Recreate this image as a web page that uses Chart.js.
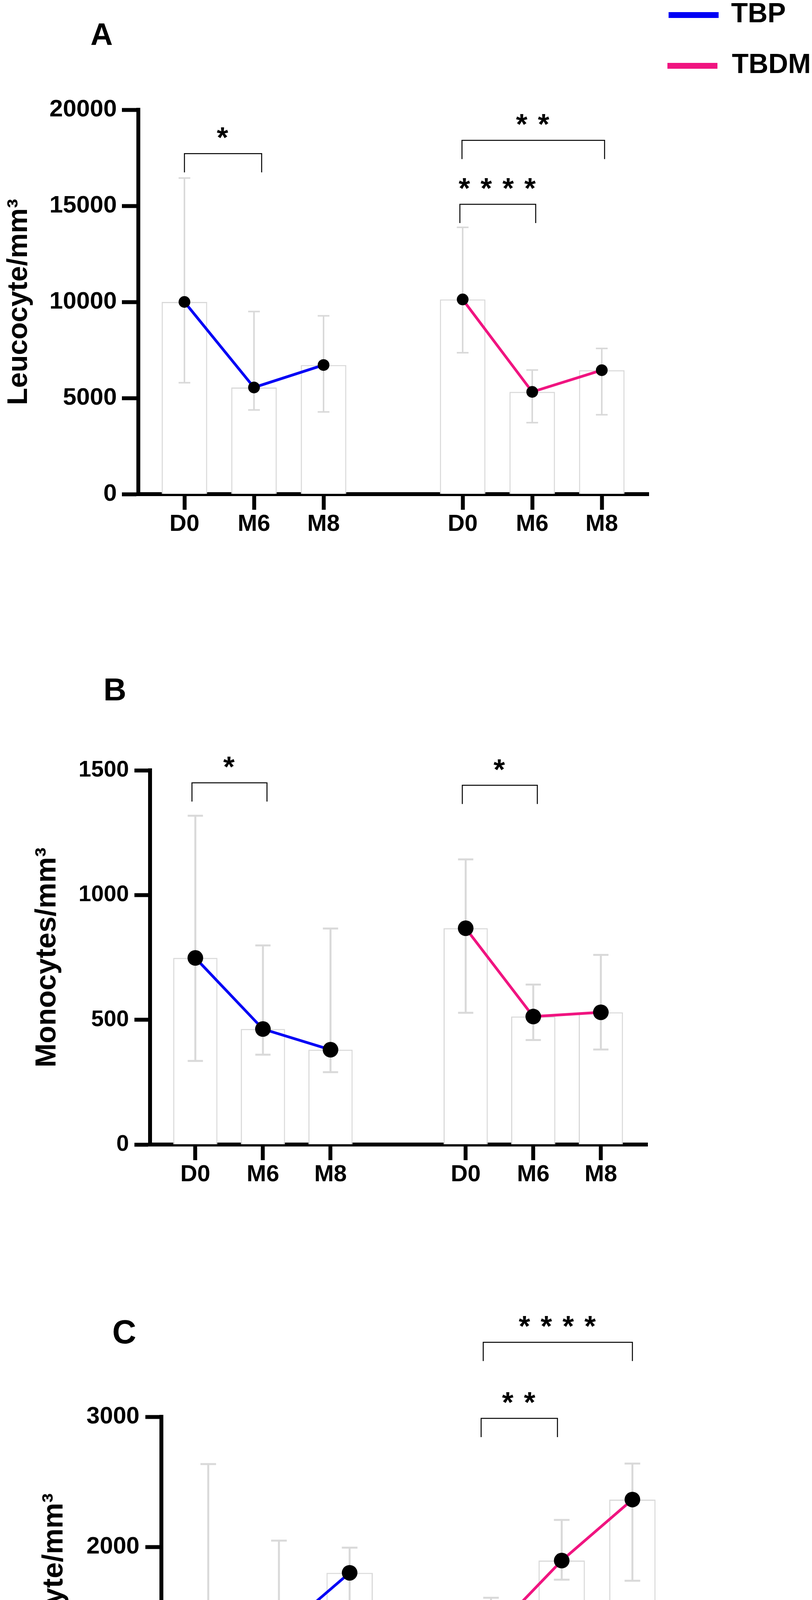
<!DOCTYPE html>
<html>
<head>
<meta charset="utf-8">
<script src="https://cdn.jsdelivr.net/npm/chart.js@4.4.1/dist/chart.umd.min.js"></script>
<style>
html,body{margin:0;padding:0;background:#fff;}
body{width:2078px;height:4742px;position:relative;overflow:hidden;}
canvas{position:absolute;left:0;}
</style>
</head>
<body>
<canvas id="cA" width="2078" height="1500" style="top:0;width:2078px;height:1500px"></canvas>
<canvas id="cB" width="2078" height="1600" style="top:1500px;width:2078px;height:1600px"></canvas>
<canvas id="cC" width="2078" height="1642" style="top:3100px;width:2078px;height:1642px"></canvas>
<script>
// ---------------- data ----------------
const timepoints = ['D0', 'M6', 'M8'];
const groupLabels = ['TBP', 'TBDM'];
const slotsTbp = [1, 2, 3];
const slotsTbdm = [5, 6, 7];

// A - Leucocyte/mm3
const leucoTitle = 'Leucocyte/mm\u00B3';
const leucoTicks = [0, 5000, 10000, 15000, 20000];
const leucoTbpMean = [10000, 5550, 6720];
const leucoTbpLow = [5800, 4380, 4280];
const leucoTbpHigh = [16450, 9500, 9280];
const leucoTbdmMean = [10130, 5320, 6450];
const leucoTbdmLow = [7360, 3720, 4130];
const leucoTbdmHigh = [13880, 6460, 7580];
const leucoSig = [
  { from: 1.0, to: 2.11, level: 17720, text: '*' },
  { from: 4.96, to: 6.05, level: 15080, text: '* * * *' },
  { from: 4.99, to: 7.04, level: 18410, text: '* *' }
];

// B - Monocytes/mm3
const monoTitle = 'Monocytes/mm\u00B3';
const monoTicks = [0, 500, 1000, 1500];
const monoTbpMean = [748, 463, 380];
const monoTbpLow = [335, 360, 290];
const monoTbpHigh = [1318, 798, 866];
const monoTbdmMean = [867, 513, 530];
const monoTbdmLow = [528, 419, 381];
const monoTbdmHigh = [1143, 641, 760];
const monoSig = [
  { from: 0.95, to: 2.06, level: 1450, text: '*' },
  { from: 4.95, to: 6.06, level: 1440, text: '*' }
];

// C - Lymphocyte/mm3
const lymphoTitle = 'Lymphocyte/mm\u00B3';
const lymphoTicks = [0, 1000, 2000, 3000];
const lymphoTbpMean = [1510, 1337, 1803];
const lymphoTbpLow = [1127, 953, 1336];
const lymphoTbpHigh = [2637, 2050, 1996];
const lymphoTbdmMean = [1333, 1897, 2365];
const lymphoTbdmLow = [1109, 1750, 1742];
const lymphoTbdmHigh = [1612, 2209, 2641];
const lymphoSig = [
  { from: 4.86, to: 5.94, level: 2988, text: '* *' },
  { from: 4.89, to: 7.0, level: 3572, text: '* * * *' }
];

// ---------------- style ----------------
const FONT = "'Liberation Sans', Arial, Helvetica, sans-serif";
const BLUE = '#0000f5';
const PINK = '#f01480';
const GREY = '#d9d9d9';

const errorBarsPlugin = {
  id: 'errorBars',
  afterDatasetDraw(chart, args, opts) {
    if (args.meta.type !== 'bar') return;
    const x = chart.scales.x, y = chart.scales.y, ctx = chart.ctx;
    ctx.save();
    ctx.strokeStyle = opts.color;
    ctx.lineWidth = opts.width;
    ctx.lineCap = 'butt';
    opts.slots.forEach((s, i) => {
      const px = x.getPixelForValue(s);
      const lo = y.getPixelForValue(opts.low[i]);
      const hi = y.getPixelForValue(opts.high[i]);
      ctx.beginPath();
      ctx.moveTo(px, lo); ctx.lineTo(px, hi);
      ctx.moveTo(px - opts.cap, lo); ctx.lineTo(px + opts.cap, lo);
      ctx.moveTo(px - opts.cap, hi); ctx.lineTo(px + opts.cap, hi);
      ctx.stroke();
    });
    ctx.restore();
  }
};

const decorPlugin = {
  id: 'decor',
  afterDraw(chart, args, opts) {
    const x = chart.scales.x, y = chart.scales.y, ctx = chart.ctx;
    ctx.save();
    // significance brackets
    ctx.strokeStyle = '#000';
    ctx.fillStyle = '#000';
    ctx.lineWidth = 2.5;
    ctx.font = 'bold ' + opts.starSize + 'px ' + FONT;
    ctx.textAlign = 'center';
    ctx.textBaseline = 'alphabetic';
    if ('letterSpacing' in ctx) ctx.letterSpacing = '3px';
    opts.sig.forEach(b => {
      const x1 = x.getPixelForValue(b.from);
      const x2 = x.getPixelForValue(b.to);
      const yl = y.getPixelForValue(b.level);
      ctx.beginPath();
      ctx.moveTo(x1, yl + opts.drop);
      ctx.lineTo(x1, yl);
      ctx.lineTo(x2, yl);
      ctx.lineTo(x2, yl + opts.drop);
      ctx.stroke();
      ctx.fillText(b.text, (x1 + x2) / 2, yl - opts.starGap + opts.starSize * 0.55);
    });
    if ('letterSpacing' in ctx) ctx.letterSpacing = '0px';
    // panel letter
    ctx.font = 'bold ' + opts.letterSize + 'px ' + FONT;
    ctx.textAlign = 'center';
    ctx.fillText(opts.letter, opts.letterX, opts.letterY);
    // legend
    if (opts.legend) {
      const lg = opts.legend;
      chart.data.datasets.filter(d => d.type === 'line').forEach((d, i) => {
        const yy = lg.y[i];
        ctx.strokeStyle = d.borderColor;
        ctx.lineWidth = lg.lineW;
        ctx.beginPath();
        ctx.moveTo(lg.x1[i], yy);
        ctx.lineTo(lg.x2[i], yy);
        ctx.stroke();
        ctx.fillStyle = '#000';
        ctx.font = 'bold ' + lg.size + 'px ' + FONT;
        ctx.textAlign = 'left';
        ctx.fillText(d.label, lg.tx[i], yy + lg.textDy);
      });
    }
    ctx.restore();
  }
};

function pts(xs, ys) { return xs.map((v, i) => ({ x: v, y: ys[i] })); }

function makePanel(p) {
  const tickSlots = slotsTbp.concat(slotsTbdm);
  const tickLabels = timepoints.concat(timepoints);
  return new Chart(document.getElementById(p.id), {
    type: 'bar',
    data: {
      datasets: [
        { type: 'line', label: groupLabels[0], data: pts(slotsTbp, p.tbpMean),
          borderColor: BLUE, borderWidth: 7, tension: 0, order: 0,
          pointRadius: p.pointR, pointBackgroundColor: '#000', pointBorderColor: '#000', pointBorderWidth: 0 },
        { type: 'line', label: groupLabels[1], data: pts(slotsTbdm, p.tbdmMean),
          borderColor: PINK, borderWidth: 7, tension: 0, order: 0,
          pointRadius: p.pointR, pointBackgroundColor: '#000', pointBorderColor: '#000', pointBorderWidth: 0 },
        { type: 'bar', label: 'mean', data: pts(slotsTbp, p.tbpMean).concat(pts(slotsTbdm, p.tbdmMean)),
          backgroundColor: '#ffffff', borderColor: GREY, borderWidth: 3, borderSkipped: 'start',
          barPercentage: 0.655, categoryPercentage: 1, order: 1 }
      ]
    },
    options: {
      responsive: false, animation: false, devicePixelRatio: 1, events: [],
      layout: { padding: { left: 0, top: p.padTop, right: p.padRight, bottom: p.padBottom } },
      plugins: {
        legend: { display: false },
        tooltip: { enabled: false },
        errorBars: { slots: tickSlots, low: p.tbpLow.concat(p.tbdmLow), high: p.tbpHigh.concat(p.tbdmHigh),
                     color: GREY, width: p.errW, cap: p.cap },
        decor: { sig: p.sig, drop: 48, starGap: 57, starSize: 75,
                 letter: p.letter, letterX: p.letterX, letterY: p.letterY, letterSize: p.letterSize,
                 legend: p.legend || null }
      },
      scales: {
        x: {
          type: 'linear', min: p.xMin, max: p.xMax, bounds: 'data', offset: false,
          afterBuildTicks: s => { s.ticks = tickSlots.map(v => ({ value: v })); },
          afterFit: s => { s.height = p.xAxisH; },
          ticks: { callback: (v, i) => tickLabels[i], color: '#000', padding: 1, autoSkip: false,
                   maxRotation: 0, minRotation: 0, font: { family: FONT, size: 60, weight: 'bold' } },
          grid: { offset: false, drawOnChartArea: false, drawTicks: true, tickLength: 40, tickWidth: 10, tickColor: '#000' },
          border: { display: true, color: '#000', width: 10 }
        },
        y: {
          min: 0, max: p.yTicks[p.yTicks.length - 1],
          afterBuildTicks: s => { s.ticks = p.yTicks.map(v => ({ value: v })); },
          afterFit: s => { s.width = p.yAxisW; },
          ticks: { callback: v => String(v), color: '#000', padding: p.yTickPad,
                   font: { family: FONT, size: p.yTickSize, weight: 'bold' } },
          title: { display: true, text: p.title, color: '#000', padding: { top: p.titlePad, bottom: 0 },
                   font: { family: FONT, size: p.titleSize, weight: 'bold' } },
          grid: { drawOnChartArea: false, drawTicks: true, tickLength: p.yTickLen, tickWidth: 10, tickColor: '#000' },
          border: { display: true, color: '#000', width: 10 }
        }
      }
    },
    plugins: [errorBarsPlugin, decorPlugin]
  });
}

makePanel({
  id: 'cA', title: leucoTitle, yTicks: leucoTicks,
  tbpMean: leucoTbpMean, tbpLow: leucoTbpLow, tbpHigh: leucoTbpHigh,
  tbdmMean: leucoTbdmMean, tbdmLow: leucoTbdmLow, tbdmHigh: leucoTbdmHigh, sig: leucoSig,
  padTop: 281, padRight: 418, padBottom: 85, xAxisH: 150, yAxisW: 354,
  xMin: 0.337, xMax: 7.674, yTickPad: 13, yTickLen: 42, yTickSize: 62,
  titleSize: 72, titlePad: 6.3, pointR: 15, errW: 4, cap: 15,
  letter: 'A', letterX: 260, letterY: 115, letterSize: 79,
  legend: { x1: [1711, 1708], x2: [1839, 1836], y: [38.5, 168.5], lineW: 15,
            tx: [1871, 1873], textDy: 18, size: 70 }
});

makePanel({
  id: 'cB', title: monoTitle, yTicks: monoTicks,
  tbpMean: monoTbpMean, tbpLow: monoTbpLow, tbpHigh: monoTbpHigh,
  tbdmMean: monoTbdmMean, tbdmLow: monoTbdmLow, tbdmHigh: monoTbdmHigh, sig: monoSig,
  padTop: 472, padRight: 421, padBottom: 20, xAxisH: 150, yAxisW: 384,
  xMin: 0.33, xMax: 7.69, yTickPad: 14, yTickLen: 40, yTickSize: 58,
  titleSize: 74, titlePad: 77.6, pointR: 20, errW: 5, cap: 19.5,
  letter: 'B', letterX: 294, letterY: 293, letterSize: 81
});

makePanel({
  id: 'cC', title: lymphoTitle, yTicks: lymphoTicks,
  tbpMean: lymphoTbpMean, tbpLow: lymphoTbpLow, tbpHigh: lymphoTbpHigh,
  tbdmMean: lymphoTbdmMean, tbdmLow: lymphoTbdmLow, tbdmHigh: lymphoTbdmHigh, sig: lymphoSig,
  padTop: 527, padRight: 333, padBottom: 4, xAxisH: 110, yAxisW: 413,
  xMin: 0.337, xMax: 7.70, yTickPad: 15, yTickLen: 41, yTickSize: 61,
  titleSize: 74, titlePad: 95, pointR: 20, errW: 5, cap: 20,
  letter: 'C', letterX: 318, letterY: 339, letterSize: 85
});
</script>
</body>
</html>
